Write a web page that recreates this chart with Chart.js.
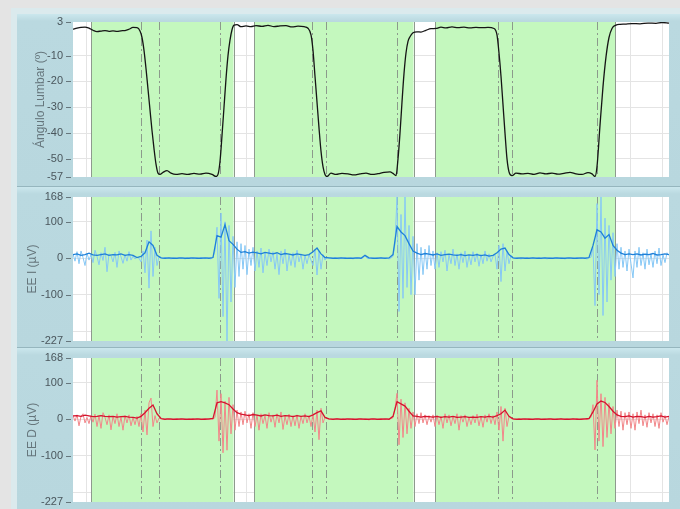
<!DOCTYPE html>
<html>
<head>
<meta charset="utf-8">
<script src="https://cdn.jsdelivr.net/npm/chart.js@4.4.0/dist/chart.umd.min.js"></script>
<style>
  html, body { margin: 0; padding: 0; width: 680px; height: 509px; overflow: hidden; background: #e4e4e4; }
  #frame { position: absolute; left: 11px; top: 8px; width: 669px; height: 501px; background: #dbeaed; }
  .panel { position: absolute; left: 17px; width: 663px; background: linear-gradient(#cbe7ed 0px, #bad9e0 7px, #b8d7de 100%); }
  #p1 { top: 14px; height: 172px; }
  #p2 { top: 186px; height: 160px; border-top: 1px solid #96b6be; }
  #p3 { top: 347px; height: 161px; border-top: 1px solid #96b6be; }
  canvas { position: absolute; left: 0; top: 0; }
</style>
</head>
<body>
<div id="frame"></div>
<div class="panel" id="p1"><canvas id="angleChart" width="663" height="172"></canvas></div>
<div class="panel" id="p2"><canvas id="eeiChart" width="663" height="160"></canvas></div>
<div class="panel" id="p3"><canvas id="eedChart" width="663" height="161"></canvas></div>
<script>
// time in seconds, plot spans 0 .. 59.6
const rawStep = 0.2;
const envStep = 0.4;

// task phases (green) and event markers (dash-dot)
const phaseStart = [1.8, 18.1, 36.2];
const phaseEnd = [16.05, 34.05, 54.2];
const eventTimes = [6.8, 8.6, 14.7, 23.9, 25.3, 32.4, 42.5, 43.9, 52.4];

const angleTicks = [3, -10, -20, -30, -40, -50, -57];
const emgTicks = [168, 100, 0, -100, -200, -227];
const emgLabelled = [168, 100, 0, -100, -227];

// lumbar angle (deg)
const angleTime = [0, 0.4, 0.8, 1.2, 1.6, 2.0, 2.4, 2.8, 3.2, 3.6, 4.0, 4.4, 4.8, 5.2, 5.6, 6.0, 6.4, 6.7, 6.9, 7.1,
  7.3, 7.5, 7.7, 7.9, 8.1, 8.3, 8.5, 8.7, 9.0, 9.4, 9.8, 10.3, 10.9, 11.5, 12.1, 12.7, 13.3, 13.9, 14.3, 14.5,
  14.7, 14.9, 15.1, 15.3, 15.5, 15.7, 15.9, 16.1, 16.4, 16.8, 17.3, 17.8, 18.3, 18.9, 19.5, 20.1, 20.7, 21.3, 21.9, 22.5,
  23.1, 23.5, 23.8, 24.0, 24.2, 24.4, 24.6, 24.8, 25.0, 25.2, 25.4, 25.8, 26.3, 26.9, 27.5, 28.1, 28.7, 29.3, 29.9, 30.5,
  31.1, 31.7, 32.0, 32.3, 32.5, 32.7, 32.9, 33.1, 33.3, 33.5, 33.7, 34.0, 34.4, 34.8, 35.3, 35.8, 36.3, 36.8, 37.3, 37.9,
  38.5, 39.1, 39.7, 40.3, 40.9, 41.5, 42.1, 42.4, 42.6, 42.8, 43.0, 43.2, 43.4, 43.6, 43.9, 44.3, 44.9, 45.5, 46.1, 46.7,
  47.3, 47.9, 48.5, 49.1, 49.7, 50.3, 50.9, 51.5, 51.9, 52.2, 52.4, 52.7, 53.0, 53.3, 53.6, 53.9, 54.3, 54.7, 55.2, 55.9,
  56.7, 57.5, 58.3, 58.9, 59.6];
const angleDeg = [0.2, 0.6, 0.9, 1.0, 0.6, -0.2, -0.7, -0.5, -0.3, -0.6, -0.4, -0.6, -0.4, -0.3, 0.2, 0.9, 0.8, -0.5, -3, -8,
  -15, -23, -31, -39, -46, -52, -55.5, -56, -55.2, -54.5, -55.5, -56, -55.7, -56, -55.6, -55.9, -55.5, -56, -56.8, -56,
  -51, -41, -30, -19, -10, -4, 0, 1.8, 2.0, 1.2, 1.5, 1.2, 1.6, 1.3, 1.7, 1.2, 1.5, 1.6, 1.1, 1.4,
  1.2, 0.6, -2, -8, -18, -28, -38, -47, -53, -56, -56.8, -55.5, -56, -55.6, -55.8, -56.2, -55.8, -55.5, -56, -55.7,
  -55.2, -55, -55.6, -56.5, -50, -40, -28, -17, -9, -4.5, -2.7, -1.2, -0.8, -0.9, -0.2, 0.4, 0.5, 1.0, 0.7, 1.1,
  0.8, 1.0, 0.7, 0.9, 0.8, 0.9, 0.5, -2, -9, -18, -29, -40, -50, -55, -56.5, -55.5, -55.8, -55.6, -56, -55.4,
  -55.8, -55.5, -55.9, -55.6, -55.2, -55.8, -56, -55.3, -55.8, -56.8, -53, -37, -22, -10.5, -3, 0.5, 1.8, 2.1, 2.2, 2.4,
  2.3, 2.6, 2.5, 2.8, 2.6];

// EE I (uV): raw every 0.2 s, envelope every 0.4 s
const eeiRaw = [12, -8, 18, -15, 20, 2, -20, 14, -5, 10,
  -12, 22, 5, -18, 15, -6, 30, -37, 12, 8,
  -10, 16, -25, 20, 4, -14, 10, -8, 18, -5,
  6, -2, 3, 0, -10, 20, -40, 50, -82, 75,
  -50, 30, -20, 5, 2, -1, 2, 0, 1, -2,
  1, 0, -1, 2, 0, 1, -2, 1, 0, 2,
  -1, 0, 1, -1, 2, 0, -1, 1, 0, -2,
  3, 20, 85, -110, 124, -160, 100, -227, 90, -120,
  60, -80, 45, -50, 40, -30, 35, -45, 25, -20,
  30, -35, 20, -25, 28, -40, 15, -20, 25, -10,
  18, -30, 12, -45, 20, -15, 25, -35, 10, -20,
  15, -25, 22, -10, 12, -30, 8, -15, 10, -5,
  -20, 25, -46, 20, -30, 10, -5, 3, 0, 1,
  -1, 2, 0, -2, 1, 0, 2, -1, 0, 1,
  -2, 1, 0, 2, -1, 1, 8, 0, -1, 2,
  0, -1, 1, 0, 2, -1, 0, 1, -2, 1,
  5, 40, 168, -146, 120, -110, 168, -80, 90, -100,
  60, -100, 40, -60, 30, -45, 25, -30, 35, -20,
  20, -30, 15, -25, 18, -10, 22, -35, 10, -15,
  25, -20, 12, -30, 15, -12, 20, -25, 8, -18,
  18, -10, 14, -22, 10, -15, 20, -8, 12, -10,
  5, 10, -30, 35, -64, 40, -35, 20, -15, 8,
  2, -1, 1, 0, -2, 1, 0, 2, -1, 0,
  1, -1, 0, 2, -1, 0, 1, -2, 1, 0,
  -1, 2, 0, -1, 1, 0, -2, 1, 0, 1,
  0, -1, 2, 0, -1, 1, 0, -2, 1, 3,
  30, -130, 150, -100, 168, -157, 110, -120, 90, -60,
  70, -50, 40, -30, 30, -25, 20, -35, 25, -15,
  -54, 20, -25, 30, -20, 15, -30, 25, -18, 12,
  -25, 20, -15, 28, -20, 10, -12, 15, 8];
const eeiEnv = [10, 12, 8, 10, 14, 9, 8, 10, 12, 8,
  10, 9, 12, 8, 10, 8, 2, 5, 15, 45,
  35, 8, 1, 0, 1, 0, 0, 1, 0, 0,
  1, 0, 0, 1, 0, 2, 62, 58, 92, 48,
  38, 25, 16, 18, 14, 17, 15, 12, 16, 14,
  12, 15, 10, 13, 11, 9, 12, 10, 8, 10,
  18, 28, 12, 2, 1, 0, 0, 1, 0, 0,
  0, 1, 0, 8, 1, 0, 0, 1, 0, 1,
  10, 87, 72, 62, 40, 20, 14, 10, 13, 11,
  9, 12, 8, 10, 11, 9, 8, 10, 7, 9,
  8, 10, 7, 9, 6, 8, 15, 25, 28, 10,
  1, 0, 1, 0, 0, 1, 0, 0, 1, 0,
  0, 1, 0, 0, 1, 0, 0, 1, 0, 2,
  35, 78, 72, 55, 65, 35, 22, 14, 10, 12,
  10, 12, 9, 11, 10, 13, 9, 10, 12, 10];

// EE D (uV)
const eedRaw = [10, -5, 12, -18, 8, 15, -10, 5, -12, 10,
  -8, 14, -20, 10, -25, 18, 5, -15, 12, -29,
  8, -12, 15, -20, 6, -30, 10, -10, 12, -18,
  5, -15, 8, -20, 15, -35, 25, -43, 45, 58,
  -20, 10, -10, 3, 1, 0, -1, 2, 0, 1,
  -1, 0, 2, -1, 0, 1, 0, -1, 1, 0,
  2, -1, 0, 1, -1, 0, 2, 0, -1, 1,
  0, 5, 80, -60, 70, -92, 50, -85, 60, -40,
  40, -30, 25, -20, 20, -15, 22, -10, 15, -25,
  18, -20, 12, -30, 15, -12, 10, -25, 18, -8,
  12, -22, 15, -10, 20, -28, 8, -15, 14, -20,
  10, -18, 12, -25, 8, -12, 15, -10, 10, -20,
  15, -35, 25, -56, 30, -10, 5, 2, 0, 1,
  -1, 0, 2, 0, -1, 1, 0, 2, -1, 0,
  1, -1, 0, 2, 0, -1, 1, 0, -2, 1,
  0, 1, -1, 0, 2, 0, -1, 1, 0, 2,
  4, 30, 71, -70, 55, -50, 45, -40, 30, -25,
  20, -20, 15, -12, 18, -10, 12, -15, 10, -8,
  12, -20, 10, -15, 8, -25, 15, -10, 12, -18,
  8, -12, 15, -30, 10, -8, 12, -20, 6, -15,
  10, -10, 14, -18, 8, -22, 12, -8, 15, -12,
  10, -15, 20, -30, 35, -60, 30, -20, 8, 2,
  1, 0, -1, 2, 0, 1, -1, 0, 2, 0,
  -1, 1, 0, 2, -1, 0, 1, -1, 0, 2,
  0, -1, 1, 0, 2, -1, 0, 1, 0, -1,
  1, 0, 2, -1, 0, 1, 0, -1, 2, 5,
  40, -84, 107, -60, 70, -75, 60, -50, 45, -40,
  35, -25, 25, -20, 22, -30, 18, -15, 20, -25,
  15, -30, 20, -12, 25, -18, 12, -22, 18, -10,
  15, -20, 12, -25, 18, -8, 10, -15, 8];
const eedEnv = [9, 10, 8, 11, 9, 7, 8, 10, 8, 7,
  8, 6, 7, 8, 6, 5, 3, 8, 18, 30,
  39, 15, 2, 0, 1, 0, 0, 1, 0, 0,
  0, 1, 0, 0, 1, 2, 45, 48, 45, 40,
  28, 18, 14, 12, 10, 13, 11, 9, 12, 10,
  9, 11, 8, 10, 9, 7, 10, 8, 9, 7,
  12, 18, 23, 5, 1, 0, 1, 0, 0, 1,
  0, 0, 1, 0, 0, 1, 0, 0, 1, 0,
  8, 48, 42, 36, 22, 9, 8, 6, 8, 7,
  6, 8, 5, 7, 6, 8, 5, 6, 7, 5,
  6, 5, 7, 6, 8, 6, 10, 15, 25, 8,
  1, 0, 0, 1, 0, 0, 1, 0, 0, 1,
  0, 0, 1, 0, 0, 1, 0, 0, 1, 2,
  20, 42, 50, 46, 35, 22, 12, 8, 7, 9,
  6, 8, 7, 5, 8, 6, 7, 9, 6, 8];

const sampled = (vals, step) => vals.map((v, i) => ({ x: +(i * step).toFixed(2), y: v }));
const paired = (ts, vs) => ts.map((t, i) => ({ x: t, y: vs[i] }));

const gridTimes = [];
for (let t = 58.9; t > 0; t -= 3.2) gridTimes.push(+t.toFixed(1));

const phasePlugin = {
  id: 'phases',
  beforeDraw(chart) {
    const { ctx, chartArea: a } = chart;
    ctx.save();
    ctx.fillStyle = '#ffffff';
    ctx.fillRect(a.left, a.top, a.right - a.left, a.bottom - a.top);
    ctx.restore();
  },
  beforeDatasetsDraw(chart) {
    const { ctx, chartArea: a, scales: { x } } = chart;
    ctx.save();
    ctx.fillStyle = '#c4f8be';
    phaseStart.forEach((s, k) => {
      const x0 = x.getPixelForValue(s);
      const x1 = x.getPixelForValue(phaseEnd[k]);
      ctx.fillRect(x0, a.top, x1 - x0, a.bottom - a.top);
    });
    // phase borders
    ctx.strokeStyle = '#8e9a8e';
    ctx.lineWidth = 1;
    ctx.beginPath();
    phaseStart.concat(phaseEnd).forEach(t => {
      const px = Math.round(x.getPixelForValue(t)) + 0.5;
      ctx.moveTo(px, a.top);
      ctx.lineTo(px, a.bottom);
    });
    ctx.stroke();
    // events
    ctx.strokeStyle = '#8c9a8c';
    ctx.setLineDash([8, 3, 2, 3]);
    ctx.beginPath();
    eventTimes.forEach(t => {
      const px = Math.round(x.getPixelForValue(t)) + 0.5;
      ctx.moveTo(px, a.top);
      ctx.lineTo(px, a.bottom);
    });
    ctx.stroke();
    ctx.restore();
  }
};

// small dashes next to the y labels
function tickMarks(values) {
  return {
    id: 'tickMarks',
    afterDraw(chart) {
      const { ctx, chartArea: a, scales: { y } } = chart;
      ctx.save();
      ctx.fillStyle = '#66767c';
      values.forEach(v => {
        const py = Math.round(y.getPixelForValue(v));
        ctx.fillRect(a.left - 7, py, 5, 1);
      });
      ctx.restore();
    }
  };
}

function makePanel(id, datasets, yMin, yMax, ticks, labelled, title, titlePad, padTop, padBottom) {
  new Chart(document.getElementById(id), {
    type: 'line',
    data: { datasets },
    options: {
      responsive: false,
      animation: false,
      events: [],
      layout: { padding: { left: 0, right: 11, top: padTop, bottom: padBottom } },
      plugins: { legend: { display: false }, tooltip: { enabled: false } },
      elements: { point: { radius: 0 } },
      scales: {
        x: {
          type: 'linear', min: 0, max: 59.6,
          border: { display: false },
          ticks: { display: false },
          grid: { color: '#e4e4e4', drawTicks: false },
          afterBuildTicks: s => { s.ticks = gridTimes.map(v => ({ value: v })); }
        },
        y: {
          min: yMin, max: yMax,
          border: { display: false },
          afterBuildTicks: s => { s.ticks = ticks.map(v => ({ value: v })); },
          afterFit: s => { s.width = 56; s.paddingTop = 0; s.paddingBottom = 0; },
          ticks: {
            color: '#4a565c', padding: 4, autoSkip: false,
            font: { family: '"Liberation Sans", Arial, sans-serif', size: 11 },
            callback: v => labelled.includes(v) ? String(v) : ''
          },
          grid: {
            tickLength: 6,
            tickColor: 'rgba(0,0,0,0)',
            color: c => (c.tick && (c.tick.value === yMin || c.tick.value === yMax)) ? 'rgba(0,0,0,0)' : '#e4e4e4'
          },
          title: {
            display: true, text: title, color: '#66767c',
            font: { family: '"Liberation Sans", Arial, sans-serif', size: 12 },
            padding: { top: titlePad, bottom: 0 }
          }
        }
      }
    },
    plugins: [phasePlugin, tickMarks(labelled)]
  });
}

makePanel('angleChart', [{
  data: paired(angleTime, angleDeg),
  borderColor: '#151515', borderWidth: 1.3, cubicInterpolationMode: 'monotone'
}], -57, 3, angleTicks, angleTicks, 'Ángulo Lumbar (º)', 16, 8, 9);

makePanel('eeiChart', [
  { data: sampled(eeiEnv, envStep), borderColor: '#1f80d8', borderWidth: 1.3 },
  { data: sampled(eeiRaw, rawStep), borderColor: '#86c8f6', borderWidth: 1 }
], -227, 168, emgTicks, emgLabelled, 'EE I (µV)', 8, 10, 6);

makePanel('eedChart', [
  { data: sampled(eedEnv, envStep), borderColor: '#d4142e', borderWidth: 1.3 },
  { data: sampled(eedRaw, rawStep), borderColor: '#f2878a', borderWidth: 1 }
], -227, 168, emgTicks, emgLabelled, 'EE D (µV)', 8, 10, 7);
</script>
</body>
</html>
